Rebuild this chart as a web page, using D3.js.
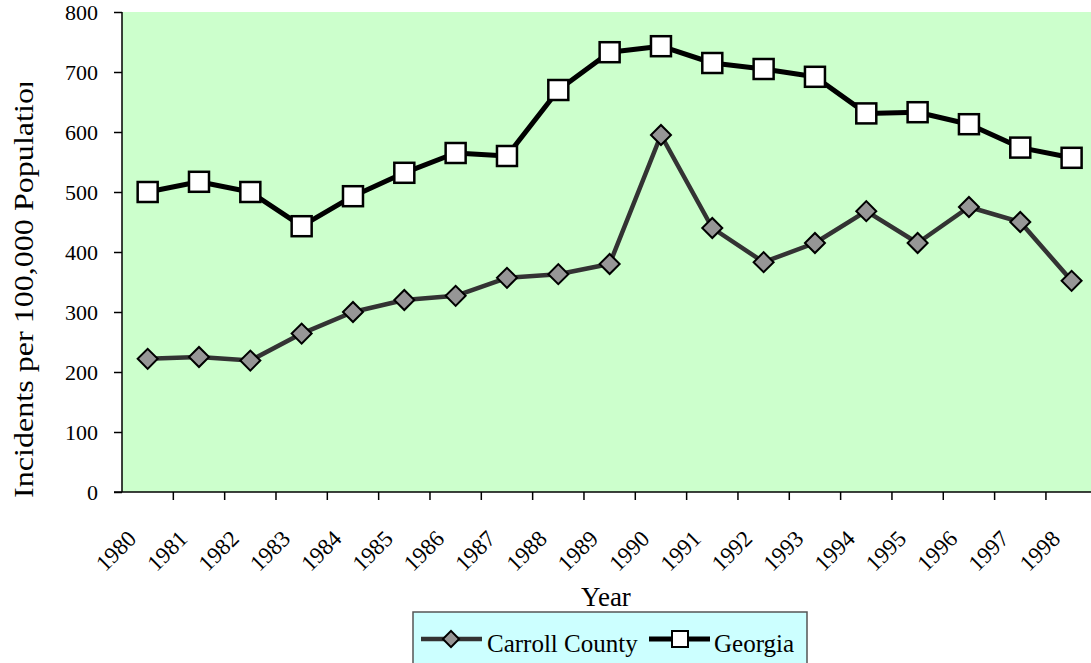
<!DOCTYPE html>
<html>
<head>
<meta charset="utf-8">
<script src="https://cdn.jsdelivr.net/npm/d3@7"></script>
<style>
  body { margin: 0; background: #fff; }
  svg { display: block; }
  svg text { font-family: "Liberation Serif", "Times New Roman", serif; }
</style>
</head>
<body>
<div id="chart"></div>
<script>
// data
var years = ["1980","1981","1982","1983","1984","1985","1986","1987","1988","1989",
             "1990","1991","1992","1993","1994","1995","1996","1997","1998"];
var carroll = [222, 225, 219, 264, 300, 320, 327, 357, 363, 380,
               595, 440, 383, 415, 468, 415, 475, 450, 352];
var georgia = [500, 517, 500, 443, 493, 532, 565, 560, 670, 733,
               743, 715, 705, 692, 631, 633, 613, 574, 557];
var yTicks = [0, 100, 200, 300, 400, 500, 600, 700, 800];

var width = 1091, height = 663;
var plotLeft = 122, plotTop = 12, plotBottom = 492;
var band = 51.33;
var plotRight = plotLeft + band * years.length;

var svg = d3.select("#chart").append("svg")
  .attr("width", width)
  .attr("height", height);

var x = d3.scaleBand().domain(years).range([plotLeft, plotRight]).paddingInner(0).paddingOuter(0);
var y = d3.scaleLinear().domain([0, 800]).range([plotBottom, plotTop]);

// plot background
svg.append("rect")
  .attr("x", plotLeft).attr("y", plotTop)
  .attr("width", plotRight - plotLeft).attr("height", plotBottom - plotTop)
  .attr("fill", "#ccffcc");

// y axis
var yAxis = svg.append("g")
  .attr("transform", "translate(" + plotLeft + ",0)")
  .call(d3.axisLeft(y).tickValues(yTicks).tickSize(8).tickPadding(16))
  .attr("font-family", null)
  .attr("font-size", 22);
yAxis.selectAll("text").attr("fill", "#000");
yAxis.select(".domain").attr("stroke", "#000").attr("stroke-width", 1.5)
  .attr("d", "M0," + plotTop + "V" + plotBottom);
yAxis.selectAll(".tick line").attr("stroke", "#000").attr("stroke-width", 1.5);

// x axis: ticks sit at category boundaries
var xAxis = svg.append("g").attr("transform", "translate(0," + plotBottom + ")");
xAxis.append("line")
  .attr("x1", plotLeft - 8).attr("x2", plotRight)
  .attr("stroke", "#000").attr("stroke-width", 1.5);
xAxis.selectAll("line.tk")
  .data(years)
  .enter().append("line")
  .attr("class", "tk")
  .attr("x1", function(d) { return x(d) + band; })
  .attr("x2", function(d) { return x(d) + band; })
  .attr("y1", 0).attr("y2", 8)
  .attr("stroke", "#000").attr("stroke-width", 1.5);
xAxis.selectAll("text")
  .data(years)
  .enter().append("text")
  .attr("transform", function(d) {
    return "translate(" + (x(d) + band / 2 - 10) + ",48) rotate(-45)";
  })
  .attr("text-anchor", "end")
  .attr("font-size", 23)
  .text(function(d) { return d; });

// axis titles
svg.append("text")
  .attr("x", 606).attr("y", 606)
  .attr("text-anchor", "middle")
  .attr("font-size", 27)
  .text("Year");

// the reference cuts the y title off at the top
svg.append("clipPath").attr("id", "ytclip")
  .append("rect").attr("x", 0).attr("y", 83).attr("width", 60).attr("height", 600);
svg.append("g")
  .attr("clip-path", "url(#ytclip)")
  .append("text")
  .attr("transform", "translate(33,498) rotate(-90)")
  .attr("text-anchor", "start")
  .attr("font-size", 28)
  .attr("textLength", 426)
  .attr("lengthAdjust", "spacingAndGlyphs")
  .text("Incidents per 100,000 Population");

// lines
var cx = function(d, i) { return x(years[i]) + band / 2; };
var line = d3.line().x(cx).y(function(d) { return y(d); });

svg.append("path").datum(carroll)
  .attr("d", line)
  .attr("fill", "none").attr("stroke", "#333333").attr("stroke-width", 4.5)
  .attr("stroke-linejoin", "round");

svg.append("path").datum(georgia)
  .attr("d", line)
  .attr("fill", "none").attr("stroke", "#000").attr("stroke-width", 5)
  .attr("stroke-linejoin", "round");

var diamond = d3.symbol().type(d3.symbolSquare).size(200);

svg.selectAll("path.cc")
  .data(carroll)
  .enter().append("path")
  .attr("class", "cc")
  .attr("d", diamond)
  .attr("transform", function(d, i) { return "translate(" + cx(d, i) + "," + y(d) + ") rotate(45)"; })
  .attr("fill", "#969696").attr("stroke", "#000").attr("stroke-width", 2);

svg.selectAll("rect.ga")
  .data(georgia)
  .enter().append("rect")
  .attr("class", "ga")
  .attr("x", function(d, i) { return cx(d, i) - 10; })
  .attr("y", function(d) { return y(d) - 10; })
  .attr("width", 20).attr("height", 20)
  .attr("fill", "#fff").attr("stroke", "#000").attr("stroke-width", 2.5);

// legend
var lg = svg.append("g");
lg.append("rect")
  .attr("x", 413).attr("y", 612).attr("width", 394).attr("height", 60)
  .attr("fill", "#ccffff").attr("stroke", "#555").attr("stroke-width", 1.5);

lg.append("line").attr("x1", 421).attr("x2", 482).attr("y1", 639).attr("y2", 639)
  .attr("stroke", "#333333").attr("stroke-width", 4.5);
lg.append("path").attr("d", d3.symbol().type(d3.symbolSquare).size(130))
  .attr("transform", "translate(451,639) rotate(45)")
  .attr("fill", "#969696").attr("stroke", "#000").attr("stroke-width", 2);
lg.append("text").attr("x", 487).attr("y", 652).attr("font-size", 25).text("Carroll County");

lg.append("line").attr("x1", 649).attr("x2", 710).attr("y1", 639).attr("y2", 639)
  .attr("stroke", "#000").attr("stroke-width", 5);
lg.append("rect").attr("x", 672).attr("y", 631).attr("width", 16).attr("height", 16)
  .attr("fill", "#fff").attr("stroke", "#000").attr("stroke-width", 2);
lg.append("text").attr("x", 714).attr("y", 652).attr("font-size", 25).text("Georgia");
</script>
</body>
</html>
